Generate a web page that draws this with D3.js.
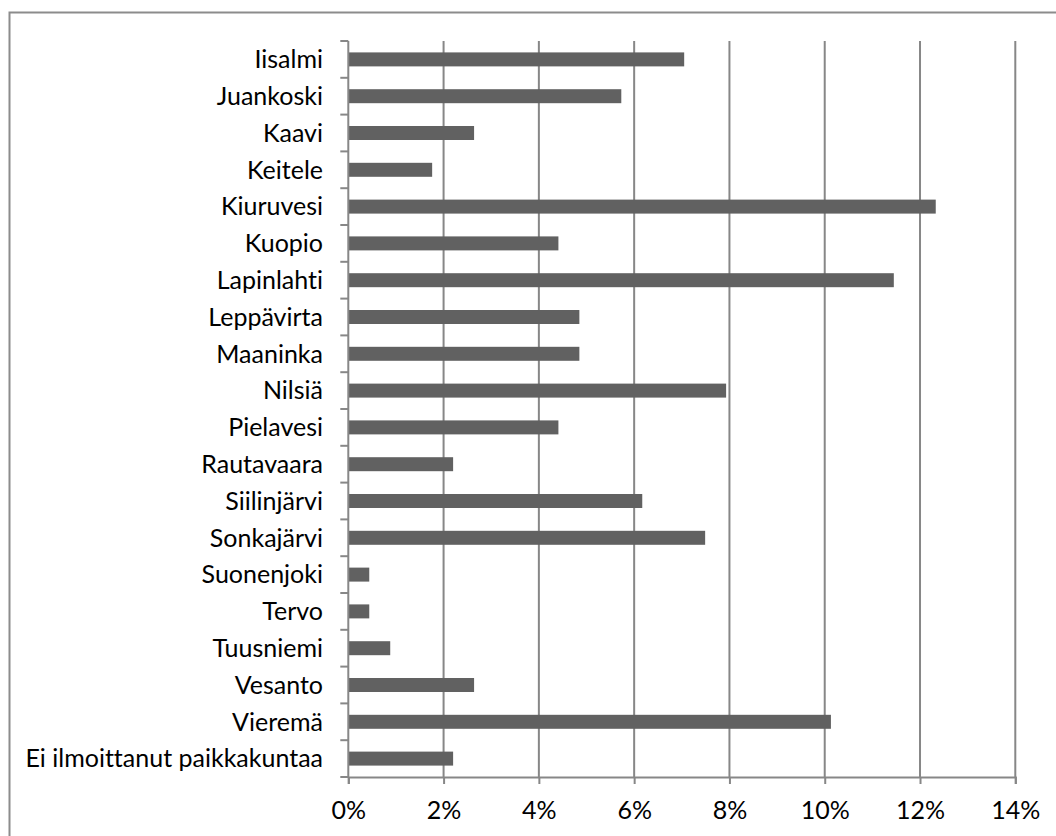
<!DOCTYPE html>
<html>
<head>
<meta charset="utf-8">
<script src="https://cdn.jsdelivr.net/npm/d3@7"></script>
<style>
  html, body { margin: 0; padding: 0; background: #fff; }
  svg { display: block; }
  text { font-family: Lato, "Open Sans", sans-serif; fill: #000; font-variant-ligatures: none; }
</style>
</head>
<body>
<svg id="chart" width="1056" height="836"></svg>
<script>
const categories = ["Iisalmi", "Juankoski", "Kaavi", "Keitele", "Kiuruvesi", "Kuopio", "Lapinlahti", "Leppävirta", "Maaninka", "Nilsiä", "Pielavesi", "Rautavaara", "Siilinjärvi", "Sonkajärvi", "Suonenjoki", "Tervo", "Tuusniemi", "Vesanto", "Vieremä", "Ei ilmoittanut paikkakuntaa"];
const values = [7.05, 5.73, 2.64, 1.76, 12.33, 4.41, 11.45, 4.85, 4.85, 7.93, 4.41, 2.20, 6.17, 7.49, 0.44, 0.44, 0.88, 2.64, 10.13, 2.20];
const xTicks = [0, 2, 4, 6, 8, 10, 12, 14];
const xTickLabels = ["0%", "2%", "4%", "6%", "8%", "10%", "12%", "14%"];

const svg = d3.select("#chart");
const mLeft = 348.3, mRight = 1015.3, mTop = 41, mBottom = 777;

// outer border
svg.append("rect").attr("x", 9.5).attr("y", 12.5).attr("width", 1100).attr("height", 900)
  .attr("fill", "none").attr("stroke", "#8c8c8c").attr("stroke-width", 2);

const x = d3.scaleLinear().domain([0, 14]).range([mLeft, mRight]);
const y = d3.scaleBand().domain(categories).range([mTop, mBottom]).paddingInner(0.62).paddingOuter(0.31);
const yb = d3.scaleBand().domain(categories).range([mTop, mBottom]);

// gridlines
svg.append("g").selectAll("line").data(xTicks.slice(1)).join("line")
  .attr("x1", d => x(d)).attr("x2", d => x(d)).attr("y1", mTop).attr("y2", mBottom)
  .attr("stroke", "#878787").attr("stroke-width", 2);

// bars
svg.append("g").selectAll("rect").data(values).join("rect")
  .attr("x", x(0)).attr("y", (d, i) => y(categories[i]))
  .attr("width", d => x(d) - x(0)).attr("height", y.bandwidth())
  .attr("fill", "#616161");

// x axis
const xAxis = d3.axisBottom(x).tickValues(xTicks).tickFormat((d, i) => xTickLabels[i]).tickSize(7).tickPadding(17);
const gx = svg.append("g").attr("transform", `translate(0,${mBottom})`).call(xAxis);
gx.select(".domain").attr("stroke", "#878787").attr("stroke-width", 2);
gx.selectAll(".tick line").attr("stroke", "#878787").attr("stroke-width", 2);
gx.selectAll(".tick text").style("font-size", "25px").style("font-family", "Lato, sans-serif").attr("fill", "#000");

// y axis (ticks at band boundaries)
const gy = svg.append("g");
gy.append("line").attr("x1", mLeft).attr("x2", mLeft).attr("y1", mTop).attr("y2", mBottom)
  .attr("stroke", "#878787").attr("stroke-width", 2);
const bounds = categories.map(c => yb(c)).concat([mBottom]);
gy.selectAll("line.tk").data(bounds).join("line").attr("class", "tk")
  .attr("x1", mLeft - 8).attr("x2", mLeft).attr("y1", d => d).attr("y2", d => d)
  .attr("stroke", "#878787").attr("stroke-width", 2);
gy.selectAll("text").data(categories).join("text")
  .attr("x", 323).attr("y", d => yb(d) + yb.bandwidth() / 2)
  .attr("dy", "0.35em").attr("text-anchor", "end")
  .style("font-size", "25px").text(d => d);
</script>
</body>
</html>
